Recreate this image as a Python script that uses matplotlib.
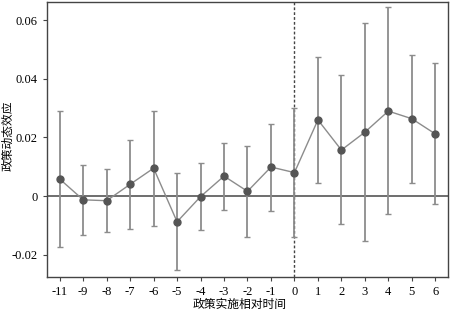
import numpy as np
import matplotlib.pyplot as plt

plt.rcParams['font.family'] = ['Liberation Serif', 'Noto Sans CJK SC']
plt.rcParams['axes.unicode_minus'] = False

periods = ['-11', '-9', '-8', '-7', '-6', '-5', '-4', '-3', '-2', '-1',
           '0', '1', '2', '3', '4', '5', '6']
coef = [0.0058, -0.0013, -0.0016, 0.0040, 0.0095, -0.0088, -0.0002, 0.0068,
        0.0016, 0.0099, 0.0080, 0.0260, 0.0157, 0.0218, 0.0290, 0.0264, 0.0212]
upper = [0.0290, 0.0106, 0.0091, 0.0193, 0.0290, 0.0078, 0.0112, 0.0182,
         0.0172, 0.0246, 0.0300, 0.0475, 0.0414, 0.0590, 0.0644, 0.0483, 0.0455]
lower = [-0.0173, -0.0133, -0.0124, -0.0112, -0.0103, -0.0253, -0.0116, -0.0048,
         -0.0139, -0.0050, -0.0139, 0.0046, -0.0097, -0.0155, -0.0060, 0.0046, -0.0028]

coef = np.array(coef)
err = [coef - np.array(lower), np.array(upper) - coef]
x = np.arange(len(periods))

fig = plt.figure(figsize=(4.5, 3.1), dpi=100)
ax = fig.add_axes([0.104, 0.106, 0.892, 0.888])

ax.axhline(0, color='#555555', lw=1.2, zorder=1)
ax.axvline(periods.index('0'), color='#444444', lw=1.0, ls=(0, (2, 1.5)), zorder=1)
ax.errorbar(x, coef, yerr=err, fmt='none', ecolor='#8c8c8c', elinewidth=1.3,
            capsize=2.5, capthick=1.0, zorder=2)
ax.plot(x, coef, color='#8c8c8c', lw=1.0, zorder=3)
ax.plot(x, coef, 'o', color='#555555', ms=5, zorder=4)

ax.set_xlim(-0.55, len(periods) - 0.45)
ax.set_ylim(-0.0277, 0.0663)
ax.set_xticks(x)
ax.set_xticklabels(periods)
ax.set_yticks([-0.02, 0, 0.02, 0.04, 0.06])
ax.set_yticklabels(['-0.02', '0', '0.02', '0.04', '0.06'])
ax.tick_params(labelsize=9, length=3, color='#444444', direction='out')
for s in ax.spines.values():
    s.set_color('#444444')
    s.set_linewidth(1.0)

ax.set_xlabel('政策实施相对时间', fontsize=8.5)
ax.set_ylabel('政策动态效应', fontsize=8.5)
ax.xaxis.set_label_coords(0.48, -0.078)
ax.yaxis.set_label_coords(-0.08, 0.513)

fig.savefig('out.png', dpi=100)
